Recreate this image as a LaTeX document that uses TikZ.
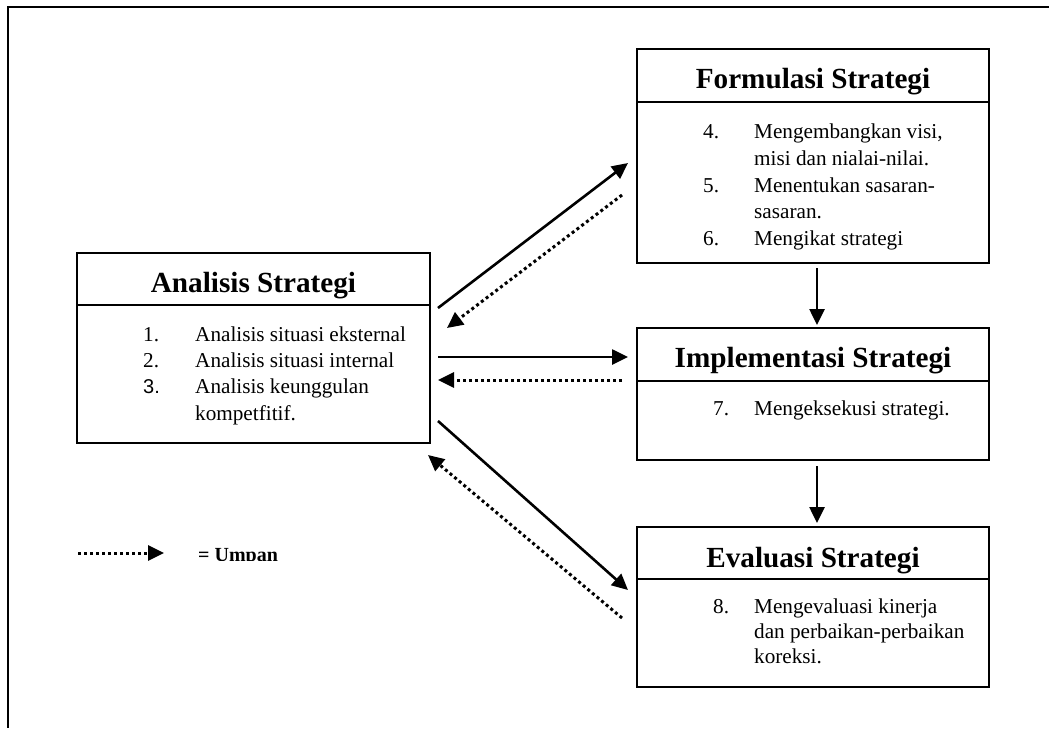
\documentclass[tikz,border=0pt]{standalone}
\usepackage{fontspec}
\setmainfont{Liberation Serif}
\newfontfamily\numsans{Liberation Sans}
\usetikzlibrary{arrows.meta}
\begin{document}
\begin{tikzpicture}[x=1pt,y=-1pt,
  box/.style={draw, line width=2pt, rectangle, inner sep=0pt},
  ttl/.style={font=\bfseries\fontsize{29.2}{34}\selectfont, inner sep=0pt, anchor=base},
  itm/.style={font=\fontsize{21.2}{26}\selectfont, inner sep=0pt, anchor=base west},
  divider/.style={line width=2pt},
  frameline/.style={line width=2pt},
  tip/.style={-{Triangle[length=16pt,width=15pt]}},
  solidarr/.style={line width=2.6pt, tip},
  dotarr/.style={line width=3pt, dash pattern=on 3pt off 3pt, tip},
  legendtxt/.style={font=\bfseries\fontsize{20}{24}\selectfont, inner sep=0pt, anchor=base west}
]
\useasboundingbox (0,0) rectangle (1049,728);
\fill[white] (0,0) rectangle (1049,728);
% outer frame (only top and left visible)
\draw[frameline] (1049,7) -- (8,7) -- (8,728);

% boxes
\node[box, minimum width=353pt, minimum height=190pt] (A) at (253.5,348) {};
\node[box, minimum width=352pt, minimum height=214pt] (F) at (813,156) {};
\node[box, minimum width=352pt, minimum height=132pt] (I) at (813,394) {};
\node[box, minimum width=352pt, minimum height=160pt] (E) at (813,607) {};

% dividers
\draw[divider] (A.west |- 0,305) -- (A.east |- 0,305);
\draw[divider] (F.west |- 0,102) -- (F.east |- 0,102);
\draw[divider] (I.west |- 0,381) -- (I.east |- 0,381);
\draw[divider] (E.west |- 0,579) -- (E.east |- 0,579);

% titles
\node[ttl] (At) at (253.5,292) {Analisis Strategi};
\node[ttl] (Ft) at (813,88) {Formulasi Strategi};
\node[ttl] (It) at (813,367) {Implementasi Strategi};
\node[ttl] (Et) at (813,567) {Evaluasi Strategi};

% Analisis items
\node[itm] (an1) at (143,341) {1.};
\node[itm] (at1) at (195,341) {Analisis situasi eksternal};
\node[itm] (an2) at (143,367) {2.};
\node[itm] (at2) at (195,367) {Analisis situasi internal};
\node[itm, font=\numsans\fontsize{20}{26}\selectfont] (an3) at (143,393) {3.};
\node[itm] (at3) at (195,393) {Analisis keunggulan};
\node[itm] (at4) at (195,420) {kompetfitif.};

% Formulasi items
\node[itm] (fn4) at (703,138) {4.};
\node[itm] (ft4) at (754,138) {Mengembangkan visi,};
\node[itm] (ft4b) at (754,165) {misi dan nialai-nilai.};
\node[itm] (fn5) at (703,192) {5.};
\node[itm] (ft5) at (754,192) {Menentukan sasaran-};
\node[itm] (ft5b) at (754,218) {sasaran.};
\node[itm] (fn6) at (703,245) {6.};
\node[itm] (ft6) at (754,245) {Mengikat strategi};

% Implementasi items
\node[itm] (in7) at (713,415) {7.};
\node[itm] (it7) at (754,415) {Mengeksekusi strategi.};

% Evaluasi items
\node[itm] (en8) at (713,613) {8.};
\node[itm] (et8) at (754,613) {Mengevaluasi kinerja};
\node[itm] (et8b) at (754,638) {dan perbaikan-perbaikan};
\node[itm] (et8c) at (754,663) {koreksi.};

% connector end points
\coordinate (p1s) at (438,308);  \coordinate (p1e) at (628,163);
\coordinate (q1s) at (622,195);  \coordinate (q1e) at (447,328);
\coordinate (p2s) at (438,357);  \coordinate (p2e) at (628,357);
\coordinate (q2s) at (622,380);  \coordinate (q2e) at (438,380);
\coordinate (p3s) at (438,421);  \coordinate (p3e) at (628,590);
\coordinate (q3s) at (622,618);  \coordinate (q3e) at (428,455);
\coordinate (v1s) at (817,268);  \coordinate (v1e) at (817,325);
\coordinate (v2s) at (817,466);  \coordinate (v2e) at (817,523);

\draw[solidarr] (p1s) -- (p1e);
\draw[dotarr] (q1s) -- (q1e);
\draw[solidarr] (p2s) -- (p2e);
\draw[dotarr] (q2s) -- (q2e);
\draw[solidarr] (p3s) -- (p3e);
\draw[dotarr] (q3s) -- (q3e);
\draw[solidarr] (v1s) -- (v1e);
\draw[solidarr] (v2s) -- (v2e);

% legend
\coordinate (ls) at (78,553);
\coordinate (le) at (164,553);
\draw[dotarr] (ls) -- (le);
\begin{scope}
  \clip (190,530) rectangle (300,560);
  \node[legendtxt] (leg) at (198,561) {= Umpan};
\end{scope}
\end{tikzpicture}
\end{document}
